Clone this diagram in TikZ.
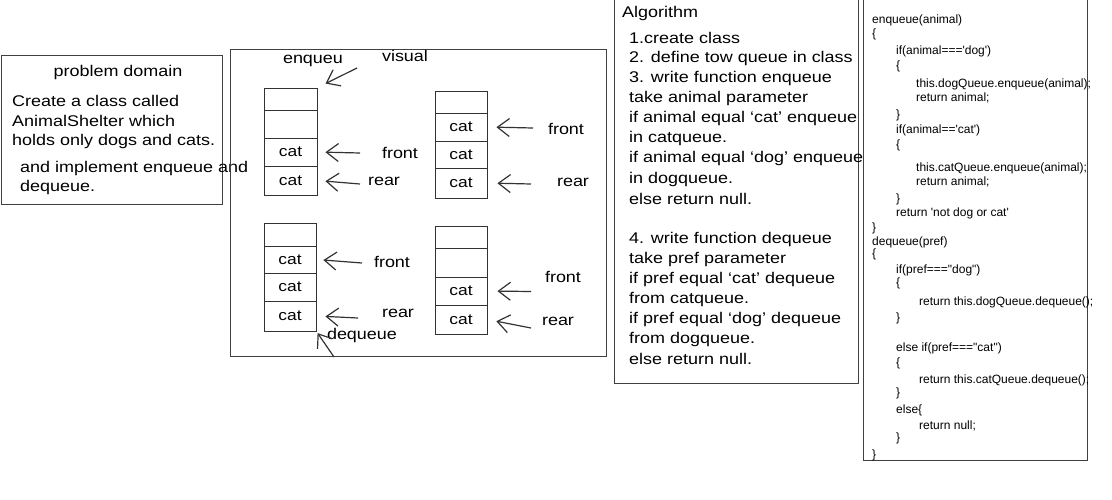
\documentclass[tikz,border=0pt]{standalone}
\usepackage{fontspec}
\setmainfont{Liberation Sans}[FakeStretch=1.16]
\newfontfamily\codefont{Liberation Sans}
\usetikzlibrary{arrows.meta}
\begin{document}
\begin{tikzpicture}[x=1pt,y=-1pt,
  frame/.style={draw=black!75, line width=1pt, anchor=north west, inner sep=0},
  txt/.style={anchor=west, inner sep=0, font=\fontsize{15.5}{18}\selectfont},
  ctxt/.style={anchor=center, inner sep=0, font=\fontsize{15.5}{18}\selectfont},
  code/.style={anchor=west, inner sep=0, font=\codefont\fontsize{12}{13}\selectfont},
  cell/.style={draw=black!80, line width=0.9pt, inner sep=0, font=\fontsize{15}{17}\selectfont},
  ptr/.style={-{Straight Barb[length=12pt,width=18pt,line width=1.2pt]}, line width=1.2pt, draw=black!80}]
\useasboundingbox (0,0) rectangle (1112,500);

% ---------- problem domain ----------
\node[frame, minimum width=221pt, minimum height=149pt] (pdbox) at (1,55) {};
\node[ctxt] (pdtitle) at (118,72) {problem domain};
\node[txt] (pd1) at (12,101) {Create a class called};
\node[txt] (pd2) at (12,121) {AnimalShelter which};
\node[txt] (pd3) at (12,141) {holds only dogs and cats.};
\node[txt] (pd4) at (20,168) {and implement enqueue and};
\node[txt] (pd5) at (20,187) {dequeue.};

% ---------- visual ----------
\node[frame, minimum width=376pt, minimum height=307pt] (visbox) at (230,49) {};
\node[ctxt] (vistitle) at (405,56) {visual};
\node[ctxt] (enqlbl) at (313,61) {enqueu};

% stack A (top left)
\node[cell, minimum width=53pt, minimum height=22pt] (a1) at (290.5,99) {};
\node[cell, minimum width=53pt, minimum height=28pt] (a2) at (290.5,124) {};
\node[cell, minimum width=53pt, minimum height=28pt] (a3) at (290.5,152) {cat};
\node[cell, minimum width=53pt, minimum height=29pt] (a4) at (290.5,180.5) {cat};
% stack B (top right)
\node[cell, minimum width=52pt, minimum height=22pt] (b1) at (461,102) {};
\node[cell, minimum width=52pt, minimum height=28pt] (b2) at (461,127) {cat};
\node[cell, minimum width=52pt, minimum height=27pt] (b3) at (461,154.5) {cat};
\node[cell, minimum width=52pt, minimum height=30pt] (b4) at (461,183) {cat};
% stack C (bottom left)
\node[cell, minimum width=52pt, minimum height=23pt] (c1) at (290,234.5) {};
\node[cell, minimum width=52pt, minimum height=27pt] (c2) at (290,259.5) {cat};
\node[cell, minimum width=52pt, minimum height=28pt] (c3) at (290,287) {cat};
\node[cell, minimum width=52pt, minimum height=30pt] (c4) at (290,316) {cat};
% stack D (bottom right)
\node[cell, minimum width=52pt, minimum height=22pt] (d1) at (461,237) {};
\node[cell, minimum width=52pt, minimum height=29pt] (d2) at (461,262.5) {};
\node[cell, minimum width=52pt, minimum height=28pt] (d3) at (461,291) {cat};
\node[cell, minimum width=52pt, minimum height=29pt] (d4) at (461,319.5) {cat};

% labels
\node[ctxt] (fA) at (400,153) {front};
\node[ctxt] (rA) at (384,181) {rear};
\node[ctxt] (fB) at (566,129) {front};
\node[ctxt] (rB) at (573,182) {rear};
\node[ctxt] (fC) at (392,262) {front};
\node[ctxt] (rC) at (398,313) {rear};
\node[ctxt] (fD) at (563,277) {front};
\node[ctxt] (rD) at (558,321) {rear};
\node[ctxt] (deqlbl) at (362,335) {dequeue};

% arrow tails
\coordinate (tEnq) at (357,68);
\coordinate (tfA) at (360,153);
\coordinate (trA) at (360,184);
\coordinate (tfB) at (533,128);
\coordinate (trB) at (531,184);
\coordinate (tfC) at (362,263);
\coordinate (trC) at (358,318);
\coordinate (tfD) at (531,291.5);
\coordinate (trD) at (531,328);
\coordinate (tDeq) at (334,357);

\draw[ptr, shorten >=9pt] (tEnq) -- (a1.north east);
\draw[ptr, shorten >=8pt] (tfA) -- (a3.east);
\draw[ptr, shorten >=8pt] (trA) -- (a4.east);
\draw[ptr, shorten >=9pt] (tfB) -- (b2.east);
\draw[ptr, shorten >=10pt] (trB) -- (b4.east);
\draw[ptr, shorten >=7pt] (tfC) -- (c2.east);
\draw[ptr, shorten >=9pt] (trC) -- (c4.east);
\draw[ptr, shorten >=10pt] (tfD) -- (d3.east);
\draw[ptr, shorten >=9pt] (trD) -- (d4.east);
\draw[ptr, shorten >=2pt] (tDeq) -- (c4.south east);

% ---------- algorithm ----------
\node[frame, minimum width=244pt, minimum height=386pt] (algbox) at (614,-3) {};
\node[txt] (al0) at (622,13) {Algorithm};
\node[txt] (al1) at (629,38) {1.create class};
\node[txt] (al2) at (629,58) {2. define tow queue in class};
\node[txt] (al3) at (629,78) {3. write function enqueue};
\node[txt] (al4) at (629,98) {take animal parameter};
\node[txt] (al5) at (629,118) {if animal equal `cat' enqueue};
\node[txt] (al6) at (629,138) {in catqueue.};
\node[txt] (al7) at (629,158) {if animal equal `dog' enqueue};
\node[txt] (al8) at (629,179) {in dogqueue.};
\node[txt] (al9) at (629,199) {else return null.};
\node[txt] (al10) at (629,239) {4. write function dequeue};
\node[txt] (al11) at (629,259) {take pref parameter};
\node[txt] (al12) at (629,279) {if pref equal `cat' dequeue};
\node[txt] (al13) at (629,299) {from catqueue.};
\node[txt] (al14) at (629,319) {if pref equal `dog' dequeue};
\node[txt] (al15) at (629,339) {from dogqueue.};
\node[txt] (al16) at (629,359) {else return null.};

% ---------- code ----------
\node[frame, minimum width=224pt, minimum height=463pt] (codebox) at (863,-3) {};
\node[code] (k1) at (872,20) {enqueue(animal)};
\node[code] (k2) at (872,34) {\{};
\node[code] (k3) at (896,51) {if(animal===\textquotesingle dog\textquotesingle)};
\node[code] (k4) at (896,66) {\{};
\node[code] (k5) at (916,84) {this.dogQueue.enqueue(animal);};
\node[code] (k6) at (916,98) {return animal;};
\node[code] (k7) at (896,115) {\}};
\node[code] (k8) at (896,130) {if(animal==\textquotesingle cat\textquotesingle)};
\node[code] (k9) at (896,145) {\{};
\node[code] (k10) at (916,168) {this.catQueue.enqueue(animal);};
\node[code] (k11) at (916,182) {return animal;};
\node[code] (k12) at (896,199) {\}};
\node[code] (k13) at (896,213) {return \textquotesingle not dog or cat\textquotesingle};
\node[code] (k14) at (872,228) {\}};
\node[code] (k15) at (872,242) {dequeue(pref)};
\node[code] (k16) at (872,254) {\{};
\node[code] (k17) at (896,270) {if(pref==="dog")};
\node[code] (k18) at (896,283) {\{};
\node[code] (k19) at (919,302) {return this.dogQueue.dequeue();};
\node[code] (k20) at (896,318) {\}};
\node[code] (k21) at (896,348) {else if(pref==="cat")};
\node[code] (k22) at (896,363) {\{};
\node[code] (k23) at (919,380) {return this.catQueue.dequeue();};
\node[code] (k24) at (896,393) {\}};
\node[code] (k25) at (896,410) {else\{};
\node[code] (k26) at (919,426) {return null;};
\node[code] (k27) at (896,438) {\}};
\node[code] (k28) at (872,455) {\}};
\end{tikzpicture}
\end{document}
